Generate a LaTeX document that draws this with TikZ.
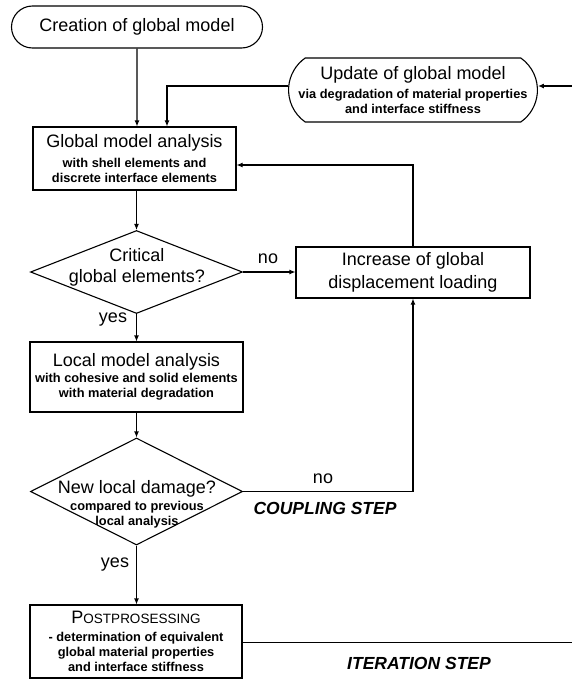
\documentclass[tikz,border=0pt]{standalone}
\usepackage{fontspec}
\setmainfont{Liberation Sans}
\usepackage{tikz}
\usetikzlibrary{shapes,shapes.geometric,shapes.misc,arrows.meta,calc}
\newcommand{\bigsz}{\fontsize{18}{15}\selectfont\mdseries}
\newcommand{\smallsz}{\fontsize{12.8}{15}\selectfont\bfseries}
\tikzset{
    big/.style={font=\bigsz},
    small/.style={font=\smallsz},
    flow/.style={draw, line width=1.1pt, -{Latex[length=6pt,width=5pt]}},
    stepname/.style={font=\fontsize{17.5}{20}\selectfont\bfseries\itshape}}

\begin{document}
\begin{tikzpicture}[x=1pt,y=-1pt]
\tikzstyle{box}=[draw,line width=1.1pt,rectangle,inner sep=2pt,align=center]
\tikzstyle{term}=[draw,line width=1.1pt,rounded rectangle,inner sep=2pt,align=center]
\tikzstyle{dec}=[draw,line width=1.1pt,diamond,inner sep=0pt]
    \useasboundingbox (0,0) rectangle (572,680);

    % start and update
    \node (create)[term,big,minimum width=255pt,minimum height=42pt] at (137,27) {Creation of global model};
    \node (update)[term,small,rounded rectangle arc length=110,minimum width=243pt,minimum height=64pt] at (413,90)
        {\bigsz Update of global model\\[4pt]via degradation of material properties\\and interface stiffness};

    % global analysis
    \node (glob)[box,small,minimum width=203pt,minimum height=63pt] at (134.5,158.5)
        {\bigsz Global model analysis\\[5pt]with shell elements and\\discrete interface elements};

    \node (crit)[dec,minimum width=212pt,minimum height=83pt] at (136.5,272) {};
    \node (crittxt)[big,align=center,inner sep=0pt] at (137,267) {Critical\\[6pt]global elements?};

    \node (incr)[box,big,minimum width=234pt,minimum height=51pt] at (413,272.5)
        {Increase of global\\[5pt]displacement loading};

    % local analysis
    \node (loc)[box,small,minimum width=213pt,minimum height=70pt] at (136.5,377)
        {\bigsz Local model analysis\\[1pt]with cohesive and solid elements\\with material degradation};

    \node (dmg)[dec,minimum width=212pt,minimum height=107pt] at (136.5,491.5) {};
    \node (dmgtxt)[small,align=center,inner sep=0pt] at (137,504)
        {\bigsz New local damage?\\[2pt]compared to previous\\local analysis};

    \node (post)[box,small,minimum width=212pt,minimum height=73pt] at (136,641.5)
        {{\fontsize{18}{15}\selectfont\mdseries P}{\fontsize{13.5}{15}\selectfont\mdseries OSTPROSESSING}\\[3pt]- determination of equivalent\\global material properties\\and interface stiffness};

    \coordinate (rin) at (572,86);
    \coordinate (rout) at (572,642.5);
    \coordinate (bend) at (167,86);
    \coordinate (loopup) at (413,165);

    \draw[flow] (create) -- (create |- glob.north);
    \draw[flow] (update.west |- bend) -- (bend) -- (bend |- glob.north);
    \draw[flow] (rin) -- (update.east |- rin);
    \draw[flow] (crit |- glob.south) -- (crit.north);
    \draw[flow] (crit.east) -- (incr.west |- crit.east);
    \draw[flow] (crit.south) -- (loc.north -| crit);
    \draw[flow] (loc.south -| dmg) -- (dmg.north);
    \draw[flow] (dmg.east) -- (incr.south |- dmg.east) -- (incr.south);
    \draw[flow] (dmg.south) -- (post.north -| dmg);
    \draw[flow] (incr.north) -- (loopup) -- (glob.east |- loopup);
    \draw[line width=1.1pt] (post.east |- rout) -- (rout);

    % branch labels
    \node (critno)[big] at (268,259) {no};
    \node (crityes)[big] at (113,320) {yes};
    \node (dmgno)[big] at (323,479) {no};
    \node (dmgyes)[big] at (115,565) {yes};

    \node (coupling)[stepname] at (325,508) {COUPLING STEP};
    \node (iteration)[stepname] at (419,663) {ITERATION STEP};
\end{tikzpicture}
\end{document}
